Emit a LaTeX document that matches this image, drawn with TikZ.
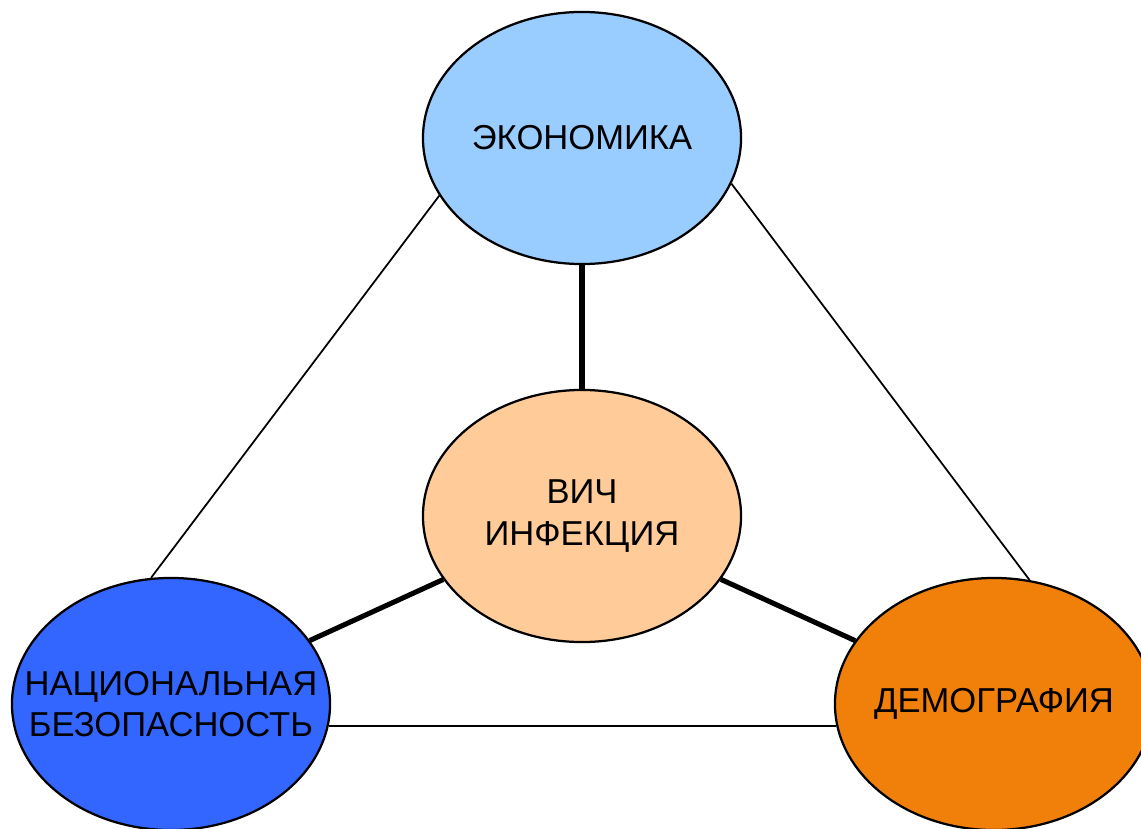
\documentclass[tikz,border=0pt]{standalone}
\usepackage{fontspec}
\setmainfont{Liberation Sans}
\usepackage{tikz}
\usetikzlibrary{shapes.geometric}

\begin{document}
\begin{tikzpicture}[x=0.025cm,y=-0.025cm]
        \tikzset{blob/.style={ellipse,draw=black,line width=1.6pt,minimum width=7.95cm,minimum height=6.3cm,inner sep=0pt}}
        \tikzset{caption/.style={align=center,text=black,inner sep=0pt,font=\fontsize{24.6}{29.5}\selectfont}}
        \tikzstyle{thin link}=[line width=1.25pt]
        \tikzstyle{thick link}=[line width=3.6pt]
        \useasboundingbox (0,0) rectangle (1141,828);

        \definecolor{g-fillcolor}{HTML}{99CCFF}
        \node [blob, fill=g-fillcolor, label={[caption]center:ЭКОНОМИКА}] (eco) at (582,138) {};
        \definecolor{g-fillcolor}{HTML}{FFCC99}
        \node [blob, fill=g-fillcolor, label={[caption]center:ВИЧ\\ИНФЕКЦИЯ}] (hiv) at (582,516) {};
        \definecolor{g-fillcolor}{HTML}{3366FF}
        \node [blob, fill=g-fillcolor, label={[caption]center:НАЦИОНАЛЬНАЯ\\БЕЗОПАСНОСТЬ}] (ns) at (171,704) {};
        \definecolor{g-fillcolor}{HTML}{F0800A}
        \node [blob, fill=g-fillcolor, label={[caption]center:ДЕМОГРАФИЯ}] (demo) at (994,704) {};

        % outer triangle
        \draw [thin link] (eco.202.6) -- (ns.99.5);
        \draw [thin link] (eco.343) -- (demo.74);
        \draw [thin link] (ns.-8.5) -- (demo.188.5);
        % spokes from the centre
        \draw [thick link] (eco.south) -- (hiv.north);
        \draw [thick link] (hiv) -- (ns);
        \draw [thick link] (hiv) -- (demo);
    \end{tikzpicture}
\end{document}
